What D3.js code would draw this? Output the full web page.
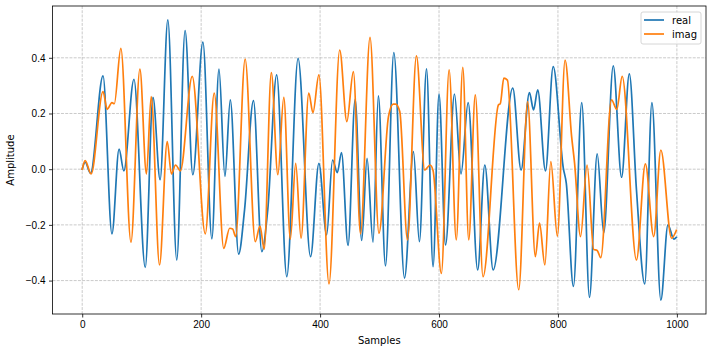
<!DOCTYPE html>
<html>
<head>
<meta charset="utf-8">
<script src="https://cdn.jsdelivr.net/npm/d3@7"></script>
<style>
    body { margin: 0; background: #fff; }
    svg { font-family: 'DejaVu Sans', sans-serif; font-size: 10px; }
    .grid line { stroke: #bcbcbc; stroke-width: 0.8; stroke-dasharray: 2.96 1.28; }
    .axis path, .axis line { stroke: #000; stroke-width: 0.8; }
    .axis text { fill: #000; font-size: 10px; }
</style>
</head>
<body>
<div id="graph"></div>
<script>
// sample positions and amplitudes of the turning points
const realX = [0, 5, 14, 35, 50, 62, 70, 87, 106, 119, 131, 144, 159, 173, 186, 203, 218, 230, 240, 249,
    263, 273, 288, 302, 312, 327, 344, 363, 384, 398, 411, 421, 429, 436, 447, 459, 470, 479, 489, 498,
    510, 524, 542, 557, 567, 579, 590, 600, 611, 626, 637, 649, 665, 677, 691, 724, 738, 752, 759, 766,
    779, 792, 809, 814, 826, 840, 853, 866, 877, 893, 907, 920, 932, 946, 958, 973, 985, 995, 999];
const realY = [0, 0.025, -0.015, 0.335, -0.232, 0.072, -0.006, 0.323, -0.353, 0.258, -0.038, 0.536, -0.326, 0.498, -0.02, 0.456, -0.25, 0.359, -0.026, 0.249,
    -0.305, -0.146, 0.246, -0.296, -0.146, 0.339, -0.386, 0.398, -0.314, 0.021, -0.236, 0.033, -0.012, 0.06, -0.274, 0.251, -0.256, 0.039, -0.262, 0.263,
    -0.347, 0.419, -0.391, 0.063, -0.26, 0.36, -0.35, 0.27, -0.272, 0.27, -0.017, 0.239, -0.362, 0.015, -0.362, 0.291, -0.003, 0.275, 0.213, 0.285,
    -0.006, 0.368, 0.004, -0.05, -0.421, 0.239, -0.46, 0.055, -0.228, 0.371, -0.029, 0.342, -0.074, -0.412, 0.239, -0.47, -0.2, -0.251, -0.245];

const imagX = [0, 5, 15, 35, 42, 50, 54, 65, 82, 97, 108, 116, 130, 143, 150, 157, 165, 185, 207, 222,
    238, 248, 253, 258, 274, 291, 299, 306, 318, 329, 339, 350, 359, 368, 381, 388, 398, 415, 433, 445,
    456, 468, 484, 499, 515, 523, 527, 534, 547, 562, 576, 585, 590, 604, 617, 629, 640, 650, 661, 674,
    700, 703, 709, 715, 734, 749, 762, 769, 778, 788, 799, 812, 823, 828, 838, 849, 860, 866, 872, 890,
    899, 908, 932, 947, 961, 973, 991, 999];
const imagY = [0, 0.031, -0.017, 0.279, 0.215, 0.239, 0.235, 0.434, -0.262, 0.359, -0.017, 0.261, -0.344, 0.099, -0.017, 0.015, -0.006, 0.333, -0.232, 0.273,
    -0.284, -0.212, -0.215, -0.242, 0.395, -0.26, -0.204, -0.287, 0.347, -0.02, 0.258, -0.251, 0.021, -0.248, 0.273, 0.203, 0.339, -0.412, 0.428, 0.171,
    0.35, -0.232, 0.473, -0.23, 0.189, 0.234, 0.234, 0.207, -0.254, 0.407, -0.003, 0.015, -0.005, -0.374, 0.357, -0.254, 0.366, -0.254, 0.267, -0.386,
    0.231, 0.235, 0.327, 0.32, -0.433, 0.243, -0.314, -0.194, -0.344, 0.027, -0.24, 0.392, 0.117, 0.021, -0.242, 0.015, -0.288, -0.292, -0.318, 0.249,
    0.215, 0.333, -0.326, 0.019, -0.242, 0.069, -0.248, -0.22];

const xTicks = [0, 200, 400, 600, 800, 1000];
const yTicks = [-0.4, -0.2, 0.0, 0.2, 0.4];
const seriesNames = ['real', 'imag'];
const seriesColors = ['#1f77b4', '#ff7f0e'];

const width = 712, height = 352;
const plotLeft = 52.5, plotRight = 706, plotTop = 6, plotBottom = 314;

function createChart() {
    let svg = d3.select('div#graph')
        .append('svg')
        .attr('width', width)
        .attr('height', height);

    let scaleX = d3.scaleLinear().domain([-49.95, 1048.95]).range([plotLeft, plotRight]);
    let scaleY = d3.scaleLinear().domain([-0.52, 0.586]).range([plotBottom, plotTop]);

    addGrid(svg, scaleX, scaleY);
    plotLines(svg, scaleX, scaleY);
    addAxes(svg, scaleX, scaleY);
    addLegend(svg);
}

function addGrid(svg, scaleX, scaleY) {
    let grid = svg.append('g').attr('class', 'grid');
    grid.selectAll('line.gx')
        .data(xTicks)
        .enter()
        .append('line')
            .attr('class', 'gx')
            .attr('x1', d => scaleX(d)).attr('x2', d => scaleX(d))
            .attr('y1', plotTop).attr('y2', plotBottom);
    grid.selectAll('line.gy')
        .data(yTicks)
        .enter()
        .append('line')
            .attr('class', 'gy')
            .attr('x1', plotLeft).attr('x2', plotRight)
            .attr('y1', d => scaleY(d)).attr('y2', d => scaleY(d));
}

function plotLines(svg, scaleX, scaleY) {
    let line = d3.line()
        .x(d => scaleX(d[0]))
        .y(d => scaleY(d[1]))
        .curve(d3.curveMonotoneX);
    let series = [d3.zip(realX, realY), d3.zip(imagX, imagY)];

    svg.append('g')
        .selectAll('path')
        .data(series)
        .enter()
        .append('path')
            .attr('d', d => line(d))
            .attr('fill', 'none')
            .attr('stroke', (d, i) => seriesColors[i])
            .attr('stroke-width', 1.7)
            .attr('stroke-linejoin', 'round')
            .attr('stroke-linecap', 'square');
}

function addAxes(svg, scaleX, scaleY) {
    let axisX = d3.axisBottom(scaleX).tickValues(xTicks).tickSize(3.5).tickPadding(3.5).tickFormat(d3.format('d'));
    let axisY = d3.axisLeft(scaleY).tickValues(yTicks).tickSize(3.5).tickPadding(3.5)
        .tickFormat(d => d3.format('.1f')(d).replace('-', '\u2212'));

    svg.append('g')
        .attr('class', 'axis')
        .attr('transform', `translate(0, ${ plotBottom })`)
        .call(axisX)
        .call(g => g.select('.domain').remove());
    svg.append('g')
        .attr('class', 'axis')
        .attr('transform', `translate(${ plotLeft }, 0)`)
        .call(axisY)
        .call(g => g.select('.domain').remove());

    // frame
    svg.append('rect')
        .attr('x', plotLeft).attr('y', plotTop)
        .attr('width', plotRight - plotLeft).attr('height', plotBottom - plotTop)
        .attr('fill', 'none').attr('stroke', '#000').attr('stroke-width', 0.8);

    svg.append('text')
        .attr('x', (plotLeft + plotRight) / 2)
        .attr('y', 344)
        .attr('text-anchor', 'middle')
        .text('Samples');
    svg.append('text')
        .attr('transform', `translate(14, ${ (plotTop + plotBottom) / 2 }) rotate(-90)`)
        .attr('text-anchor', 'middle')
        .text('Amplitude');
}

function addLegend(svg) {
    let legend = svg.append('g').attr('transform', 'translate(641, 12)');
    legend.append('rect')
        .attr('width', 60).attr('height', 32)
        .attr('rx', 2)
        .attr('fill', 'rgba(255,255,255,0.8)')
        .attr('stroke', '#cccccc')
        .attr('stroke-width', 0.8);
    legend.selectAll('line')
        .data(seriesNames)
        .enter()
        .append('line')
            .attr('x1', 3).attr('x2', 23)
            .attr('y1', (d, i) => 8 + i * 14).attr('y2', (d, i) => 8 + i * 14)
            .attr('stroke', (d, i) => seriesColors[i])
            .attr('stroke-width', 1.7);
    legend.selectAll('text')
        .data(seriesNames)
        .enter()
        .append('text')
            .attr('x', 31)
            .attr('y', (d, i) => 11.5 + i * 14)
            .text(d => d);
}

createChart();
</script>
</body>
</html>
